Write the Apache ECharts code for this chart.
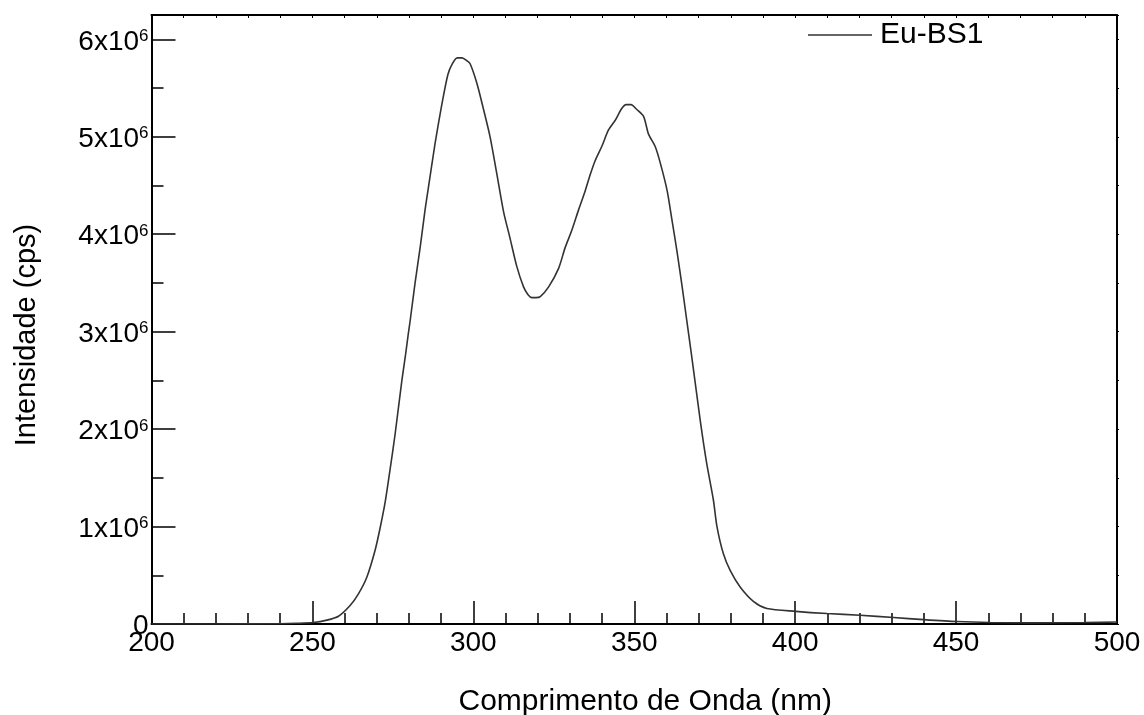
<!DOCTYPE html>
<html>
<head>
<meta charset="utf-8">
<script src="https://cdn.jsdelivr.net/npm/echarts@6/dist/echarts.min.js"></script>
<style>
  html, body { margin: 0; padding: 0; background: #fff; }
  #chart { width: 1144px; height: 715px; }
</style>
</head>
<body>
<div id="chart"></div>
<script>
// Wavelength (nm)
const wavelength = [
  200, 220, 240, 245, 250.3, 254.5, 258.1, 261.7, 264.3, 266.9,
  269.5, 271.0, 272.6, 274.1, 275.7, 277.8, 278.8, 279.8, 280.4, 281.9,
  283.5, 285.0, 286.0, 288.1, 290.2, 292.1, 293.5, 295.0, 296.5, 298.0,
  299.0, 301.1, 303.1, 305.2, 307.3, 309.4, 311.4, 313.5, 315.6, 317.0,
  318.2, 319.5, 320.8, 323.4, 326.5, 328.5, 330.6, 332.7, 334.8, 336.3,
  337.9, 339.9, 342.0, 344.1, 346.1, 347.5, 349.0, 350.8, 352.9, 354.4,
  356.5, 358.1, 360.2, 361.7, 363.3, 364.8, 366.3, 367.8, 370.5,
  372.5, 374.6, 375.7, 377.7, 379.8, 382.9, 387.1, 391.2, 400.2, 409.9,
  420.2, 430.6, 439.9, 450.3, 460.6, 473.5, 490, 500
];
// Intensity (cps), Eu-BS1
const intensity = [
  0, 0, 3000, 7000, 15000, 40000, 80000, 190000, 310000, 480000,
  760000, 980000, 1250000, 1580000, 1950000, 2500000, 2730000, 2980000, 3120000, 3500000,
  3870000, 4250000, 4470000, 4930000, 5330000, 5640000, 5750000, 5810000, 5810000, 5780000,
  5750000, 5550000, 5290000, 5000000, 4620000, 4230000, 3960000, 3670000, 3460000, 3380000,
  3350000, 3350000, 3360000, 3460000, 3650000, 3860000, 4040000, 4250000, 4450000, 4610000,
  4760000, 4900000, 5070000, 5170000, 5290000, 5330000, 5330000, 5280000, 5210000, 5030000,
  4900000, 4730000, 4450000, 4150000, 3820000, 3480000, 3120000, 2760000, 2090000,
  1650000, 1270000, 1000000, 720000, 550000, 380000, 230000, 160000, 130000, 107000,
  90000, 66000, 45000, 25000, 15000, 12000, 15000, 20000
];
const seriesName = 'Eu-BS1';
const xTitle = 'Comprimento de Onda (nm)';
const yTitle = 'Intensidade (cps)';

const FONT = '"Liberation Sans", Arial, sans-serif';
const chart = echarts.init(document.getElementById('chart'), null, { renderer: 'canvas' });

const points = wavelength.map((w, i) => [w, intensity[i]]);

const option = {
  backgroundColor: '#fff',
  animation: false,
  textStyle: { fontFamily: FONT },
  grid: { left: 151.5, right: 27, top: 15, bottom: 91, outerBoundsMode: 'none', containLabel: false },
  legend: {
    data: [seriesName],
    left: 808, top: 20,
    padding: 0,
    icon: 'rect',
    itemWidth: 64, itemHeight: 1.5,
    itemStyle: { color: '#333' },
    textStyle: { fontSize: 30, color: '#000', fontFamily: FONT, padding: [0, 0, 0, 3] }
  },
  xAxis: [
    {
      type: 'value', min: 200, max: 500, interval: 50, position: 'bottom',
      name: xTitle, nameLocation: 'middle', nameGap: 63,
      nameTextStyle: { fontSize: 30, color: '#000', fontFamily: FONT, padding: [0, 0, 0, 22] },
      axisLine: { show: true, onZero: false, lineStyle: { color: '#000', width: 2 } },
      axisTick: { show: true, inside: true, length: 23, lineStyle: { color: '#000', width: 1.5 } },
      minorTick: { show: true, splitNumber: 5, length: 11, lineStyle: { color: '#000', width: 1.5 } },
      axisLabel: { fontSize: 28, color: '#000', margin: 5, fontFamily: FONT },
      splitLine: { show: false }, minorSplitLine: { show: false }
    },
    {
      type: 'value', min: 200, max: 500, interval: 10, position: 'top',
      axisLine: { show: true, onZero: false, lineStyle: { color: '#000', width: 2 } },
      axisTick: { show: true, inside: true, length: 3, lineStyle: { color: '#000', width: 1 } },
      axisLabel: { show: false }, splitLine: { show: false }
    }
  ],
  yAxis: [
    {
      type: 'value', min: 0, max: 6250000, interval: 1000000, position: 'left',
      name: yTitle, nameLocation: 'middle', nameGap: 110, nameRotate: 90,
      nameTextStyle: { fontSize: 29, color: '#000', fontFamily: FONT, padding: [0, 31, 0, 0] },
      axisLine: { show: true, onZero: false, lineStyle: { color: '#000', width: 2 } },
      axisTick: { show: true, inside: true, length: 24, lineStyle: { color: '#000', width: 1.5 } },
      axisLabel: {
        fontSize: 28, color: '#000', margin: 3, fontFamily: FONT, showMaxLabel: false,
        padding: [5, 0, 0, 0],
        formatter: function (v) {
          if (v === 0) return '0';
          if (v % 1000000 !== 0) return '';
          return (v / 1000000) + 'x10{s|6}';
        },
        rich: { s: { fontSize: 17, verticalAlign: 'top', color: '#000', fontFamily: FONT } }
      },
      splitLine: { show: false }
    },
    {
      type: 'value', min: 0, max: 6250000, interval: 500000, position: 'left', offset: 0,
      axisLine: { show: false },
      axisTick: { show: true, inside: true, length: 12, lineStyle: { color: '#000', width: 1.5 } },
      axisLabel: { show: false }, splitLine: { show: false }
    },
    {
      type: 'value', min: 0, max: 6250000, interval: 500000, position: 'right',
      axisLine: { show: true, onZero: false, lineStyle: { color: '#000', width: 2 } },
      axisTick: { show: true, inside: false, length: 2, lineStyle: { color: '#000', width: 1 } },
      axisLabel: { show: false }, splitLine: { show: false }
    }
  ],
  series: [
    {
      name: seriesName, type: 'line', xAxisIndex: 0, yAxisIndex: 0,
      data: points, symbol: 'none', smooth: 0.25,
      lineStyle: { color: '#333', width: 1.6 },
      itemStyle: { color: '#333' }
    }
  ]
};
chart.setOption(option);
</script>
</body>
</html>
